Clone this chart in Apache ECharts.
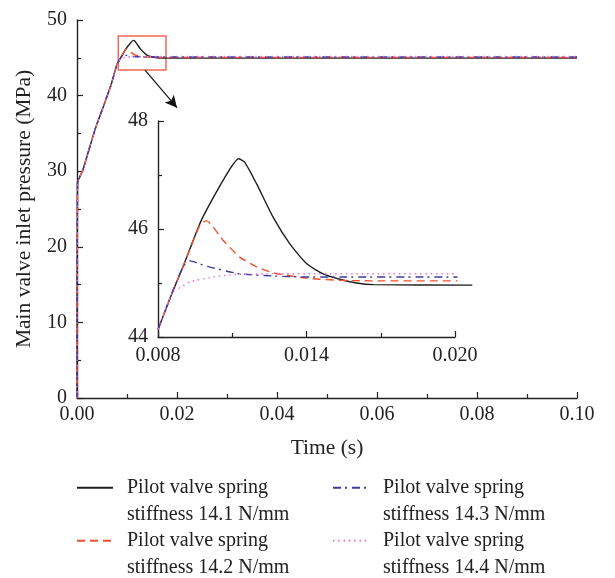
<!DOCTYPE html>
<html><head><meta charset="utf-8">
<script src="https://cdn.jsdelivr.net/npm/echarts@6/dist/echarts.min.js"></script>
<style>html,body{margin:0;padding:0;background:#fff}#c{width:615px;height:578px}</style>
</head><body><div id="c"></div>
<script>
// ---- data ----
const seriesNames = [
  'Pilot valve spring\nstiffness 14.1 N/mm',
  'Pilot valve spring\nstiffness 14.2 N/mm',
  'Pilot valve spring\nstiffness 14.3 N/mm',
  'Pilot valve spring\nstiffness 14.4 N/mm'
];
// common rising part (time s, pressure MPa)
const riseT = [0, 0.0001, 0.0012, 0.0036, 0.0053, 0.0068, 0.0075, 0.008, 0.00861];
const riseY = [0, 28.4, 30.2, 35.5, 38.6, 41.4, 43.0, 44.14, 44.86];
// 14.1 N/mm
const t141 = [0.00901, 0.00975, 0.01063, 0.01126, 0.0115, 0.01198, 0.01265, 0.01332, 0.0140, 0.01467, 0.01534, 0.01602, 0.0167, 0.0207, 0.1];
const y141 = [45.30, 46.16, 46.90, 47.30, 47.24, 46.84, 46.22, 45.73, 45.36, 45.17, 45.07, 45.00, 44.97, 44.96, 44.96];
// 14.2 N/mm
const t142 = [0.00901, 0.0097, 0.00996, 0.01063, 0.0113, 0.01198, 0.01265, 0.0140, 0.01534, 0.0167, 0.0201, 0.1];
const y142 = [45.30, 46.08, 46.15, 45.79, 45.48, 45.30, 45.19, 45.09, 45.05, 45.04, 45.04, 45.04];
// 14.3 N/mm
const t143 = [0.00901, 0.00928, 0.00996, 0.0113, 0.01265, 0.0140, 0.01534, 0.0201, 0.1];
const y143 = [45.30, 45.41, 45.31, 45.17, 45.13, 45.11, 45.11, 45.11, 45.11];
// 14.4 N/mm
const t144 = [0.00882, 0.00928, 0.00955, 0.01009, 0.0109, 0.0113, 0.01265, 0.0201, 0.1];
const y144 = [44.90, 45.02, 45.05, 45.10, 45.15, 45.16, 45.17, 45.17, 45.17];

const mainXTicks = [0, 0.1, 0.02];
const mainYTicks = [0, 50, 10];
const insetXTicks = [0.008, 0.020, 0.006];
const insetYTicks = [44, 48, 2];
const insetDataEnd = 0.0207;   // inset curves run a little past the inset axis end
const zoomBox = [[0.00826, 47.88], [0.0178, 43.37]];
const arrowLine = [[0.0136, 43.37], [0.0200, 38.4]];

// ---- build ----
function build(tt, yy) {
  const t = riseT.concat(tt), y = riseY.concat(yy);
  return t.map((v, i) => [v, y[i]]);
}
const allData = [build(t141, y141), build(t142, y142), build(t143, y143), build(t144, y144)];
const styles = [
  {color: '#1f1f1f', type: 'solid'},
  {color: '#f0502d', type: [8, 5]},
  {color: '#3c3ca0', type: [8, 4, 2, 5]},
  {color: '#e070d8', type: [1.5, 3.8]}
];
const FONT = 'Liberation Serif';
const axisLine = {lineStyle: {color: '#222', width: 1.4}};
const tick = {inside: true, length: 6, lineStyle: {color: '#222', width: 1.2}};
const minor = {show: true, splitNumber: 2, length: 4, lineStyle: {color: '#222', width: 1.2}};
const lbl = (m, f) => ({fontFamily: FONT, fontSize: 20, color: '#222', margin: m, formatter: f});

// inset geometry: axes grid, plus a wider invisible grid with identical scale for the curves
const insetLeft = 158, insetTop = 121, insetW = 297, insetH = 216;
const overW = insetW * (insetDataEnd - insetXTicks[0]) / (insetXTicks[1] - insetXTicks[0]);

const series = [];
allData.forEach((d, i) => {
  const common = {
    name: seriesNames[i], type: 'line', symbol: 'none', showSymbol: false, animation: false,
    smooth: 0.2,
    lineStyle: {color: styles[i].color, type: styles[i].type, width: 1.4},
    itemStyle: {color: styles[i].color}, z: 3 + i
  };
  const s = Object.assign({}, common, {xAxisIndex: 0, yAxisIndex: 0, data: d});
  if (i === 0) {
    s.markArea = {silent: true, itemStyle: {color: 'rgba(0,0,0,0)', borderColor: '#f26a55', borderWidth: 1.5},
      data: [[{coord: zoomBox[0]}, {coord: zoomBox[1]}]]};
    s.markLine = {silent: true, symbol: ['none', 'arrow'], symbolSize: [9, 12], animation: false,
      label: {show: false}, lineStyle: {color: '#111', width: 1.2, type: 'solid'},
      data: [[{coord: arrowLine[0]}, {coord: arrowLine[1]}]]};
  }
  series.push(s);
  series.push(Object.assign({}, common, {
    xAxisIndex: 2, yAxisIndex: 2,
    data: d.filter(p => p[0] >= insetXTicks[0] && p[0] <= insetDataEnd + 1e-9)
  }));
});

const legendPos = [[76, 448], [76, 501], [332, 448], [332, 501]];
const legends = seriesNames.map((n, i) => ({
  data: [n], orient: 'vertical', left: legendPos[i][0], top: legendPos[i][1], padding: 0,
  itemWidth: 36, itemHeight: 14, selectedMode: false,
  itemStyle: {opacity: 0},
  formatter: nm => ' \n' + nm,
  textStyle: {fontFamily: FONT, fontSize: 20, color: '#222', lineHeight: 26.5, padding: [0, 0, 0, 9]}
}));

const chart = echarts.init(document.getElementById('c'), null, {renderer: 'canvas'});
chart.setOption({
  animation: false,
  backgroundColor: '#fff',
  legend: legends,
  grid: [
    {left: 77, top: 20, right: 38, bottom: 180},
    {left: insetLeft, top: insetTop, width: insetW, height: insetH},
    {left: insetLeft, top: insetTop, width: overW, height: insetH}
  ],
  xAxis: [
    {type: 'value', gridIndex: 0, min: mainXTicks[0], max: mainXTicks[1], interval: mainXTicks[2],
     name: 'Time (s)', nameLocation: 'middle', nameGap: 39,
     nameTextStyle: {fontFamily: FONT, fontSize: 21.5, color: '#222'},
     axisLine, axisTick: tick, minorTick: minor, splitLine: {show: false},
     axisLabel: lbl(7, v => v.toFixed(2))},
    {type: 'value', gridIndex: 1, min: insetXTicks[0], max: insetXTicks[1], interval: insetXTicks[2],
     axisLine, axisTick: tick, minorTick: minor, splitLine: {show: false},
     axisLabel: lbl(9, v => v.toFixed(3))},
    {type: 'value', gridIndex: 2, min: insetXTicks[0], max: insetDataEnd, show: false}
  ],
  yAxis: [
    {type: 'value', gridIndex: 0, min: mainYTicks[0], max: mainYTicks[1], interval: mainYTicks[2],
     name: 'Main valve inlet pressure (MPa)', nameLocation: 'middle', nameGap: 42,
     nameTextStyle: {fontFamily: FONT, fontSize: 21.5, color: '#222'},
     axisLine, axisTick: tick, minorTick: minor, splitLine: {show: false},
     axisLabel: lbl(10, v => String(v))},
    {type: 'value', gridIndex: 1, min: insetYTicks[0], max: insetYTicks[1], interval: insetYTicks[2],
     axisLine, axisTick: tick, minorTick: minor, splitLine: {show: false},
     axisLabel: lbl(10, v => String(v))},
    {type: 'value', gridIndex: 2, min: insetYTicks[0], max: insetYTicks[1], show: false}
  ],
  series
});
</script></body></html>
